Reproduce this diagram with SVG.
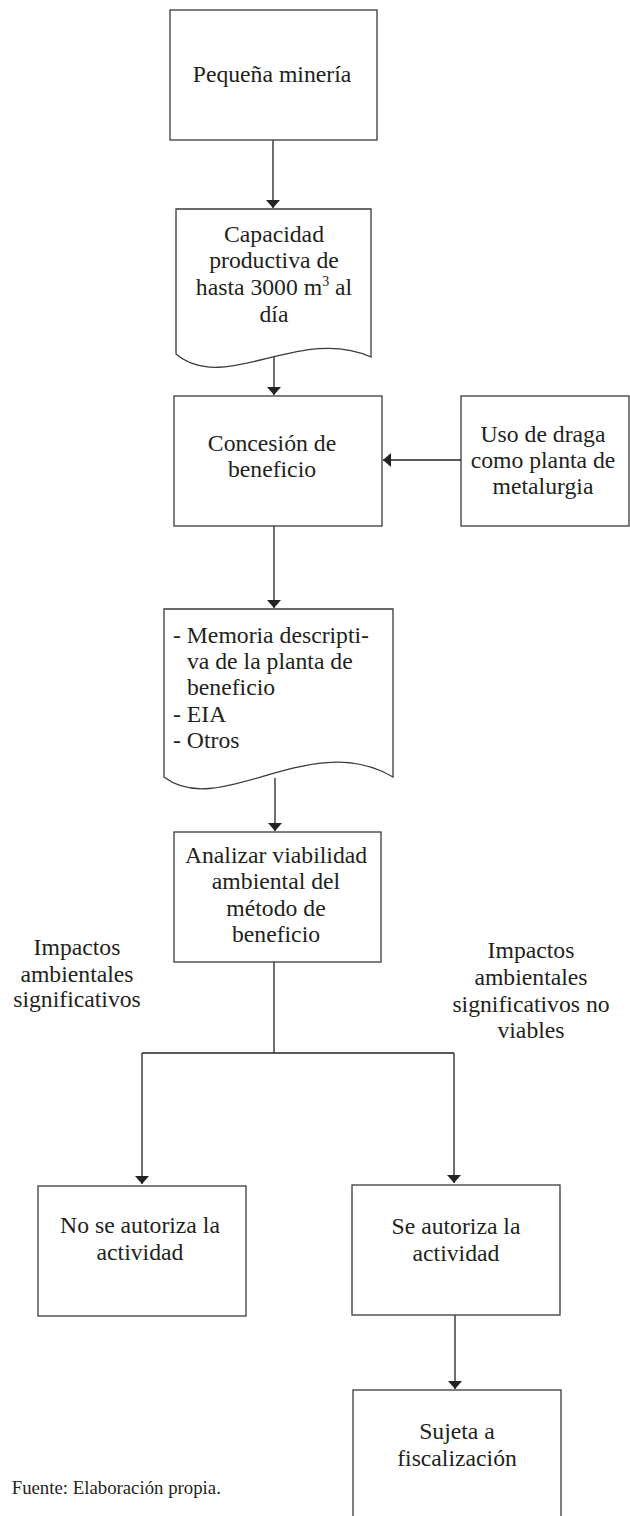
<svg xmlns="http://www.w3.org/2000/svg" width="630" height="1516" viewBox="0 0 630 1516">
<style>
.box{fill:#fff;stroke:#3a3a3a;stroke-width:1.3}
.t{font-family:"Liberation Serif","Times New Roman",serif;font-size:23.7px;fill:#231f20;text-anchor:middle}
.tl{font-family:"Liberation Serif","Times New Roman",serif;font-size:23.7px;fill:#231f20}
.src{font-family:"Liberation Serif","Times New Roman",serif;font-size:18.8px;fill:#231f20}
.c{fill:none;stroke:#222;stroke-width:1.3}
</style>
<defs>
<marker id="ah" viewBox="0 0 8 14" refX="8" refY="7" markerWidth="8" markerHeight="14" markerUnits="userSpaceOnUse" orient="auto">
<path d="M0,0 L8,7 L0,14 z" fill="#222"/>
</marker>
</defs>
<rect width="630" height="1516" fill="#fff"/>
<g id="connectors">
<path class="c" d="M273,140 V208" marker-end="url(#ah)"/>
<path class="c" d="M274,356 V395" marker-end="url(#ah)"/>
<path class="c" d="M461,460 H383" marker-end="url(#ah)"/>
<path class="c" d="M274,526 V608" marker-end="url(#ah)"/>
<path class="c" d="M275,778 V831" marker-end="url(#ah)"/>
<path class="c" d="M274,962 V1053"/>
<path class="c" d="M142,1053 H454"/>
<path class="c" d="M142,1053 V1184" marker-end="url(#ah)"/>
<path class="c" d="M454,1053 V1183" marker-end="url(#ah)"/>
<path class="c" d="M455,1315 V1389" marker-end="url(#ah)"/>
</g>
<g id="n1">
<rect class="box" x="170" y="10" width="207" height="130"/>
<text class="t" x="272" y="82">Pequeña minería</text>
</g>
<g id="n2">
<path class="box" d="M176,354 V209 H371 V357 C300,325 225,395 176,354 Z"/>
<text class="t" x="274" y="241.7">Capacidad</text>
<text class="t" x="274" y="268.3">productiva de</text>
<text class="t" x="274" y="295">hasta 3000 m<tspan font-size="14" dy="-9">3</tspan><tspan dy="9"> al</tspan></text>
<text class="t" x="274" y="321.7">día</text>
</g>
<g id="n3">
<rect class="box" x="174" y="396" width="208" height="130"/>
<text class="t" x="272" y="450.7">Concesión de</text>
<text class="t" x="272" y="477.3">beneficio</text>
</g>
<g id="n4">
<rect class="box" x="461" y="396" width="168" height="130"/>
<text class="t" x="543" y="441.7">Uso de draga</text>
<text class="t" x="543" y="468.3">como planta de</text>
<text class="t" x="543" y="494">metalurgia</text>
</g>
<g id="n5">
<path class="box" d="M164,777 V609 H393 V777 C310,728 220,820 164,777 Z"/>
<text class="tl" x="173" y="643.3">- Memoria descripti-</text>
<text class="tl" x="187" y="668.5">va de la planta de</text>
<text class="tl" x="187" y="695">beneficio</text>
<text class="tl" x="173" y="721.7">- EIA</text>
<text class="tl" x="173" y="748.3">- Otros</text>
</g>
<g id="n6">
<rect class="box" x="174" y="832" width="207" height="130"/>
<text class="t" x="276" y="862.7">Analizar viabilidad</text>
<text class="t" x="276" y="889.3">ambiental del</text>
<text class="t" x="276" y="915.5">método de</text>
<text class="t" x="276" y="941.7">beneficio</text>
</g>
<g id="label-left">
<text class="t" x="77" y="955">Impactos</text>
<text class="t" x="77" y="981.7">ambientales</text>
<text class="t" x="77" y="1007">significativos</text>
</g>
<g id="label-right">
<text class="t" x="531" y="958.3">Impactos</text>
<text class="t" x="531" y="985">ambientales</text>
<text class="t" x="531" y="1011.7">significativos no</text>
<text class="t" x="531" y="1038.3">viables</text>
</g>
<g id="n7">
<rect class="box" x="38" y="1186" width="208" height="130"/>
<text class="t" x="140" y="1233.3">No se autoriza la</text>
<text class="t" x="140" y="1260">actividad</text>
</g>
<g id="n8">
<rect class="box" x="352" y="1185" width="208" height="130"/>
<text class="t" x="456" y="1234">Se autoriza la</text>
<text class="t" x="456" y="1260.7">actividad</text>
</g>
<g id="n9">
<rect class="box" x="353" y="1390" width="208" height="140"/>
<text class="t" x="457" y="1439">Sujeta a</text>
<text class="t" x="457" y="1466">fiscalización</text>
</g>
<text class="src" x="11.7" y="1494">Fuente: Elaboración propia.</text>
</svg>
